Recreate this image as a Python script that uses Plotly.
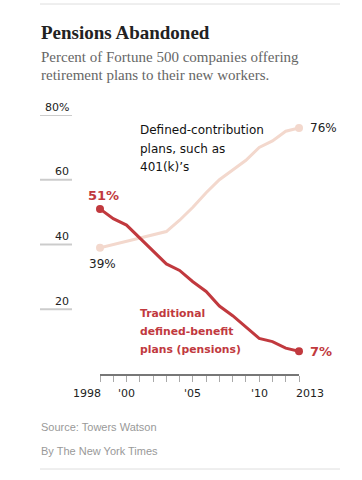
import plotly.graph_objects as go

years = list(range(1998, 2014))
defined_benefit = [51, 48, 46, 42, 38, 34, 32, 28.5, 25.5, 21, 18, 14.5, 11, 10, 8, 7]
defined_contribution = [39, 40, 41, 42, 43, 44, 47.5, 51.5, 56, 60, 63, 66, 70, 72, 75, 76]
y_ticks = [20, 40, 60, 80]
y_tick_text = ["20", "40", "60", "80%"]
x_labels = {1998: "1998", 2000: "'00", 2005: "'05", 2010: "'10", 2013: "2013"}

RED = "#c1393e"
PEACH = "#f3d8cd"
W, H = 362, 480
L, R, T, B = 100, 63, 115, 106
PW, PH = W - L - R, H - T - B


def px(xp):
    return (xp - L) / PW


def py(yp):
    return (H - B - yp) / PH


fig = go.Figure()
fig.add_trace(go.Scatter(x=years, y=defined_contribution, mode="lines",
                         line=dict(color=PEACH, width=3), cliponaxis=False,
                         hoverinfo="skip"))
fig.add_trace(go.Scatter(x=[years[0], years[-1]],
                         y=[defined_contribution[0], defined_contribution[-1]],
                         mode="markers", marker=dict(color=PEACH, size=8),
                         cliponaxis=False, hoverinfo="skip"))
fig.add_trace(go.Scatter(x=years, y=defined_benefit, mode="lines",
                         line=dict(color=RED, width=3), cliponaxis=False,
                         hoverinfo="skip"))
fig.add_trace(go.Scatter(x=[years[0], years[-1]],
                         y=[defined_benefit[0], defined_benefit[-1]],
                         mode="markers", marker=dict(color=RED, size=8),
                         cliponaxis=False, hoverinfo="skip"))

shapes = []
annotations = []

# rules top and bottom
for yp in (4, 469):
    shapes.append(dict(type="line", xref="paper", yref="paper",
                       x0=px(40), x1=px(340), y0=py(yp), y1=py(yp),
                       line=dict(color="#dedede", width=1)))

# y gridline stubs and labels
for v, t in zip(y_ticks, y_tick_text):
    shapes.append(dict(type="line", xref="paper", yref="y",
                       x0=px(40), x1=px(72), y0=v, y1=v,
                       line=dict(color="#cccccc", width=2)))
    annotations.append(dict(xref="paper", yref="y", x=px(71), y=v,
                            text=t, showarrow=False, xanchor="right",
                            yanchor="middle", yshift=8,
                            font=dict(family="DejaVu Sans", size=11, color="#222")))

# x labels
for yr, t in x_labels.items():
    xa, xs = "center", 0
    if yr == years[0]:
        xa, xs = "right", 3
    elif yr == years[-1]:
        xa, xs = "left", -5
    annotations.append(dict(xref="x", yref="paper", x=yr, y=py(393),
                            text=t, showarrow=False, xanchor=xa, xshift=xs,
                            yanchor="middle",
                            font=dict(family="DejaVu Sans", size=11, color="#222")))

# title & subtitle
annotations.append(dict(xref="paper", yref="paper", x=px(39), y=py(32),
                        text="<b>Pensions Abandoned</b>", showarrow=False,
                        xanchor="left", yanchor="middle",
                        font=dict(family="Liberation Serif", size=19, color="#222")))
for yp, t in ((57, "Percent of Fortune 500 companies offering"),
              (75, "retirement plans to their new workers.")):
    annotations.append(dict(xref="paper", yref="paper", x=px(39), y=py(yp),
                            text=t, showarrow=False, xanchor="left", yanchor="middle",
                            font=dict(family="Liberation Serif", size=15, color="#666")))

# end labels
annotations.append(dict(xref="x", yref="y", x=years[0], y=defined_benefit[0],
                        text="<b>51%</b>", showarrow=False, xanchor="center",
                        yanchor="middle", xshift=3, yshift=13,
                        font=dict(family="DejaVu Sans", size=13, color=RED)))
annotations.append(dict(xref="x", yref="y", x=years[0], y=defined_contribution[0],
                        text="39%", showarrow=False, xanchor="center",
                        yanchor="middle", xshift=2, yshift=-16,
                        font=dict(family="DejaVu Sans", size=12, color="#222")))
annotations.append(dict(xref="x", yref="y", x=years[-1], y=defined_contribution[-1],
                        text="76%", showarrow=False, xanchor="left",
                        yanchor="middle", xshift=9,
                        font=dict(family="DejaVu Sans", size=12, color="#222")))
annotations.append(dict(xref="x", yref="y", x=years[-1], y=defined_benefit[-1],
                        text="<b>7%</b>", showarrow=False, xanchor="left",
                        yanchor="middle", xshift=9,
                        font=dict(family="DejaVu Sans", size=13, color=RED)))

# series labels
for yp, t in ((130, "Defined-contribution"), (148.5, "plans, such as"),
              (167, "401(k)\u2019s")):
    annotations.append(dict(xref="paper", yref="paper", x=px(138), y=py(yp),
                            text=t, showarrow=False, xanchor="left", yanchor="middle",
                            font=dict(family="DejaVu Sans", size=12, color="#111")))
for yp, t in ((313, "Traditional"), (331, "defined-benefit"),
              (349, "plans (pensions)")):
    annotations.append(dict(xref="paper", yref="paper", x=px(138), y=py(yp),
                            text="<b>" + t + "</b>", showarrow=False, xanchor="left",
                            yanchor="middle",
                            font=dict(family="DejaVu Sans", size=10.8, color=RED)))

# source
for yp, t in ((427, "Source: Towers Watson"), (451, "By The New York Times")):
    annotations.append(dict(xref="paper", yref="paper", x=px(39), y=py(yp),
                            text=t, showarrow=False, xanchor="left", yanchor="middle",
                            font=dict(family="Liberation Sans", size=11, color="#999")))

fig.update_layout(
    width=W, height=H,
    margin=dict(l=L, r=R, t=T, b=B, pad=0),
    paper_bgcolor="white", plot_bgcolor="white",
    showlegend=False,
    xaxis=dict(range=[1998, 2013], showgrid=False, zeroline=False,
               showline=True, linecolor="#777", linewidth=1.5,
               ticks="outside", ticklen=6, tickwidth=1, tickcolor="#aaa",
               dtick=1, tick0=1998, showticklabels=False, fixedrange=True),
    yaxis=dict(range=[0, 80], showgrid=False, zeroline=False, showline=False,
               showticklabels=False, fixedrange=True),
    shapes=shapes,
    annotations=annotations,
)

fig.write_html("out.html", config={"displayModeBar": False},
               post_script="document.body.style.margin='0px';")
